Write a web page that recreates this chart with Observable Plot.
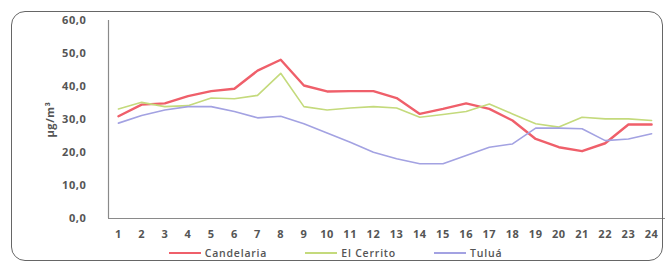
<!DOCTYPE html>
<html>
<head>
<meta charset="utf-8">
<script src="https://cdn.jsdelivr.net/npm/d3@7"></script>
<script src="https://cdn.jsdelivr.net/npm/@observablehq/plot@0.6"></script>
<style>
  html, body { margin: 0; padding: 0; background: #fff; }
  #wrap { position: relative; width: 671px; height: 267px; font-family: "Open Sans", sans-serif; }
  #frame { position: absolute; left: 11px; top: 11px; width: 652px; height: 250px; border: 1.5px solid #666; border-radius: 14px; box-sizing: border-box; }
  #legend { position: absolute; left: 0; top: 246px; width: 671px; display: flex; justify-content: center; gap: 38px; font-size: 10.5px; color: #555; font-weight: 600; letter-spacing: 0.8px; }
  #legend span { display: inline-flex; align-items: center; }
  #legend i { display: inline-block; width: 32px; height: 2px; margin-right: 4px; }
</style>
</head>
<body>
<div id="wrap">
  <div id="frame"></div>
  <div id="chart"></div>
  <div id="legend"></div>
</div>
<script>
const hours = [1,2,3,4,5,6,7,8,9,10,11,12,13,14,15,16,17,18,19,20,21,22,23,24];
const candelaria = [31.0,34.5,34.9,37.1,38.6,39.3,44.8,48.1,40.3,38.5,38.6,38.6,36.5,31.7,33.2,34.9,33.2,29.7,24.1,21.6,20.4,22.8,28.5,28.5];
const elCerrito  = [33.2,35.2,33.9,34.2,36.5,36.3,37.3,44.0,33.9,32.9,33.5,33.9,33.5,30.7,31.5,32.4,34.7,31.7,28.7,27.7,30.7,30.2,30.2,29.7];
const tulua      = [28.9,31.2,32.9,33.9,33.9,32.4,30.5,31.0,28.7,25.9,23.1,20.1,18.1,16.6,16.6,19.1,21.6,22.6,27.4,27.4,27.2,23.6,24.1,25.7];
const seriesNames = ["Candelaria", "El Cerrito", "Tuluá"];
const seriesColors = ["#ef5f6a", "#c4da7c", "#a3a2e2"];
const seriesWidths = [2.4, 1.6, 1.6];
const yTicks = [0,10,20,30,40,50,60];

const allSeries = [candelaria, elCerrito, tulua];
const data = [];
allSeries.forEach((vals, s) => vals.forEach((v, i) => data.push({hour: hours[i], value: v, series: seriesNames[s]})));

const fmt = d => d.toFixed(1).replace(".", ",");

const chart = Plot.plot({
  width: 671,
  height: 245,
  marginLeft: 108,
  marginRight: 6,
  marginTop: 20,
  marginBottom: 27,
  style: { fontFamily: "'Open Sans', sans-serif", fontSize: "11px", color: "#555", fontWeight: "bold", background: "transparent", letterSpacing: "0.6px" },
  x: { domain: [0.57, 24.6], ticks: hours, tickFormat: d => String(d), tickSize: 0, tickPadding: 12, label: null },
  y: { domain: [0, 60], ticks: yTicks, tickFormat: fmt, tickSize: 0, tickPadding: 22, label: "µg/m³", labelAnchor: "center", labelOffset: 62, labelArrow: "none" },
  marks: [
    Plot.ruleX([0.57], { stroke: "#8a8a8a", strokeWidth: 1.2 }),
    Plot.ruleY([0], { stroke: "#8a8a8a", strokeWidth: 1.2 }),
    ...seriesNames.map((name, s) =>
      Plot.line(data.filter(d => d.series === name), { x: "hour", y: "value", stroke: seriesColors[s], strokeWidth: seriesWidths[s], strokeLinejoin: "round" })
    )
  ]
});
document.getElementById("chart").appendChild(chart);

const legend = document.getElementById("legend");
seriesNames.forEach((name, s) => {
  const span = document.createElement("span");
  const line = document.createElement("i");
  line.style.background = seriesColors[s];
  span.appendChild(line);
  span.appendChild(document.createTextNode(name));
  legend.appendChild(span);
});
</script>
</body>
</html>
